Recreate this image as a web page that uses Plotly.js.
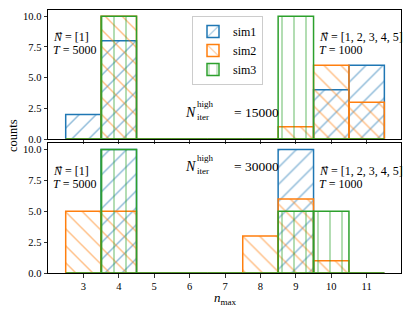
<!DOCTYPE html>
<html>
<head>
<meta charset="utf-8">
<script src="https://cdn.plot.ly/plotly-3.0.1.min.js"></script>
<style>html,body{margin:0;padding:0;background:#fff;}#chart{width:415px;height:313px;}</style>
</head>
<body>
<div id="chart"></div>
<script>
// ---- data ----
var nmax = [3, 4, 5, 6, 7, 8, 9, 10, 11];
var seriesNames = ["sim1", "sim2", "sim3"];
// N_iter^high = 15000 (top panel)
var top_sim1 = [2, 8, 0, 0, 0, 0, 0, 4, 6];
var top_sim2 = [0, 10, 0, 0, 0, 0, 1, 6, 3];
var top_sim3 = [0, 10, 0, 0, 0, 0, 10, 0, 0];
// N_iter^high = 30000 (bottom panel)
var bot_sim1 = [0, 10, 0, 0, 0, 0, 10, 0, 0];
var bot_sim2 = [5, 5, 0, 0, 0, 3, 6, 1, 0];
var bot_sim3 = [0, 10, 0, 0, 0, 0, 5, 5, 0];
var yTicks = [0, 2.5, 5, 7.5, 10];
var yTickLabels = ["0.0", "2.5", "5.0", "7.5", "10.0"];
var panelLabels = ["15000", "30000"];

// ---- style ----
var colors = ["#1f77b4", "#ff7f0e", "#2ca02c"];
var hatches = ["/", "\\", "|"];
var FONT = '"Liberation Serif", "Times New Roman", serif';

var L = 48, R = 401, T = 10, B = 273;
function xp(px) { return (px - L) / (R - L); }
function yp(py) { return (B - py) / (B - T); }

function mk(y, i, xa, ya, showLeg) {
  return {
    type: "bar", x: nmax, y: y, width: 1, name: seriesNames[i],
    xaxis: xa, yaxis: ya, showlegend: showLeg, legendgroup: seriesNames[i],
    marker: {
      color: "rgba(0,0,0,0)",
      line: {color: colors[i], width: 1.5},
      pattern: {shape: hatches[i], fgcolor: colors[i], bgcolor: "rgba(0,0,0,0)",
                size: 12, solidity: 0.12, fillmode: "overlay"}
    },
    hoverinfo: "skip"
  };
}

var data = [
  mk(top_sim1, 0, "x2", "y2", true),
  mk(top_sim2, 1, "x2", "y2", true),
  mk(top_sim3, 2, "x2", "y2", true),
  mk(bot_sim1, 0, "x", "y", false),
  mk(bot_sim2, 1, "x", "y", false),
  mk(bot_sim3, 2, "x", "y", false)
];

var axBase = {
  showline: true, mirror: true, linecolor: "#000", linewidth: 1,
  ticks: "outside", ticklen: 3.5, tickwidth: 0.8, tickcolor: "#000",
  showgrid: false, zeroline: false,
  tickfont: {family: FONT, size: 10.5, color: "#000"}
};
function ax(o) { return Object.assign({}, axBase, o); }

var txt = function (text, x, y, size, anchor) {
  return {text: text, xref: "paper", yref: "paper", x: xp(x), y: yp(y),
          xanchor: anchor || "left", yanchor: "middle", showarrow: false,
          font: {family: FONT, size: size, color: "#000"}};
};

var annotations = [];
var panelY = [
  {l1: 37, l2: 50, nY: 112},
  {l1: 171, l2: 184, nY: 166}
];
for (var p = 0; p < 2; p++) {
  var py = panelY[p];
  annotations.push(txt("<i>N</i>\u20D7 = [1]", 51, py.l1, 12));
  annotations.push(txt("<i>T</i> = 5000", 51, py.l2, 12));
  annotations.push(txt("<i>N</i>\u20D7 = [1, 2, 3, 4, 5]", 317, py.l1, 12));
  annotations.push(txt("<i>T</i> = 1000", 317, py.l2, 12));
  annotations.push(txt("<i>N</i>", 183, py.nY, 14));
  annotations.push(txt("high", 195, py.nY - 8, 9));
  annotations.push(txt("iter", 195, py.nY + 5, 9));
  annotations.push(txt("= " + panelLabels[p], 232, py.nY, 13.5));
}
annotations.push({text: "counts", xref: "paper", yref: "paper", x: xp(13), y: yp(136),
  xanchor: "center", yanchor: "middle", textangle: -90, showarrow: false,
  font: {family: FONT, size: 12.5, color: "#000"}});
annotations.push({text: "<i>n</i><sub>max</sub>", xref: "paper", yref: "paper", x: xp(225), y: yp(298),
  xanchor: "center", yanchor: "middle", showarrow: false,
  font: {family: FONT, size: 13, color: "#000"}});

var layout = {
  width: 415, height: 313,
  margin: {l: L, r: 415 - R, t: T, b: 313 - B, pad: 0},
  paper_bgcolor: "#fff", plot_bgcolor: "#fff",
  barmode: "overlay", bargap: 0,
  font: {family: FONT, color: "#000"},
  xaxis: ax({range: [2.0, 11.97], tickvals: nmax, anchor: "y", domain: [0, 1]}),
  yaxis: ax({range: [0, 10.5], tickvals: yTicks, ticktext: yTickLabels, anchor: "x", domain: [0, 0.493]}),
  xaxis2: ax({range: [2.0, 11.97], tickvals: nmax, anchor: "y2", domain: [0, 1], showticklabels: false, matches: "x"}),
  yaxis2: ax({range: [0, 10.5], tickvals: yTicks, ticktext: yTickLabels, anchor: "x2", domain: [0.5095, 1]}),
  legend: {x: xp(192), y: yp(16), xanchor: "left", yanchor: "top",
           bgcolor: "rgba(255,255,255,0.8)", bordercolor: "#ccc", borderwidth: 1,
           font: {family: FONT, size: 12, color: "#000"}, tracegroupgap: 0,
           itemwidth: 30},
  annotations: annotations
};

Plotly.newPlot("chart", data, layout, {staticPlot: true, displayModeBar: false});
</script>
</body>
</html>
